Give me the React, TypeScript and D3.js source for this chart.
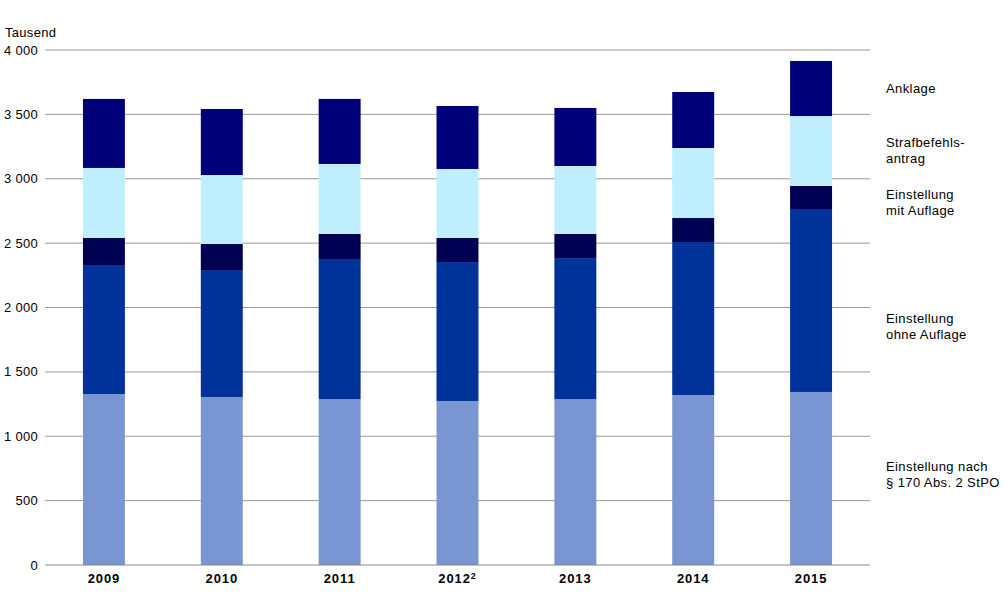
import React from "react";
import * as d3 from "d3";

const years = ["2009", "2010", "2011", "2012", "2013", "2014", "2015"];
const par170 = [1328, 1305, 1289, 1274, 1289, 1320, 1344];
const ohneAuflage = [1002, 986, 1088, 1079, 1095, 1189, 1421];
const mitAuflage = [210, 202, 194, 187, 187, 186, 179];
const strafbefehl = [544, 536, 544, 536, 528, 544, 543];
const anklage = [536, 513, 505, 489, 451, 435, 428];
const yTicks = [0, 500, 1000, 1500, 2000, 2500, 3000, 3500, 4000];

const seriesKeys = ["par170", "ohne", "mit", "straf", "anklage"];
const seriesColors: Record<string, string> = {
  par170: "#7995d2",
  ohne: "#003399",
  mit: "#000052",
  straf: "#bfefff",
  anklage: "#000078",
};

const legendItems = [
  { lines: ["Anklage"], y: 88 },
  { lines: ["Strafbefehls-", "antrag"], y: 142 },
  { lines: ["Einstellung", "mit Auflage"], y: 194 },
  { lines: ["Einstellung", "ohne Auflage"], y: 318 },
  { lines: ["Einstellung nach", "§ 170 Abs. 2 StPO"], y: 466 },
];

export default function App() {
  const rows = years.map((y, i) => ({
    year: y,
    par170: par170[i],
    ohne: ohneAuflage[i],
    mit: mitAuflage[i],
    straf: strafbefehl[i],
    anklage: anklage[i],
  }));
  const stack = d3.stack<any>().keys(seriesKeys)(rows);

  const x = d3
    .scaleBand<string>()
    .domain(years)
    .range([45, 870])
    .paddingInner(0.644)
    .paddingOuter(0.322);
  const y = d3.scaleLinear().domain([0, 4000]).range([565, 50]);
  const fmt = (v: number) => d3.format(",")(v).replace(",", " ");
  const font = "'Liberation Sans', Arial, sans-serif";

  return (
    <svg width={1004} height={598} style={{ position: "absolute", left: 0, top: 0 }}>
      <rect width={1004} height={598} fill="#fff" />
      {yTicks.map((t) => (
        <g key={t}>
          {t > 0 && (
            <line x1={45} x2={870} y1={y(t)} y2={y(t)} stroke="#999" strokeWidth={1} />
          )}
          <text
            x={38}
            y={y(t)}
            dy="0.35em"
            textAnchor="end"
            fontFamily={font}
            fontSize={13}
            letterSpacing={0.3}
            fill="#000"
          >
            {fmt(t)}
          </text>
        </g>
      ))}
      <text x={5} y={32} dy="0.35em" fontFamily={font} fontSize={13} letterSpacing={0.3}>
        Tausend
      </text>
      {stack.map((s) => (
        <g key={s.key} fill={seriesColors[s.key]}>
          {s.map((d, i) => (
            <rect
              key={i}
              x={x(years[i])}
              width={x.bandwidth()}
              y={y(d[1])}
              height={y(d[0]) - y(d[1])}
            />
          ))}
        </g>
      ))}
      <line x1={45} x2={870} y1={y(0)} y2={y(0)} stroke="#888" strokeWidth={1} />
      {years.map((yr) => (
        <text
          key={yr}
          x={(x(yr) as number) + x.bandwidth() / 2}
          y={578}
          dy="0.35em"
          textAnchor="middle"
          fontFamily={font}
          fontSize={13}
          fontWeight="bold"
          letterSpacing={0.9}
        >
          {yr}
          {yr === "2012" && (
            <tspan dy="-0.4em" fontSize={9}>
              2
            </tspan>
          )}
        </text>
      ))}
      {legendItems.map((it, i) => (
        <text
          key={i}
          x={886}
          y={it.y}
          dy="0.35em"
          fontFamily={font}
          fontSize={13}
          letterSpacing={0.4}
        >
          {it.lines.map((l, j) => (
            <tspan key={j} x={886} dy={j === 0 ? "0.35em" : 16}>
              {l}
            </tspan>
          ))}
        </text>
      ))}
    </svg>
  );
}
